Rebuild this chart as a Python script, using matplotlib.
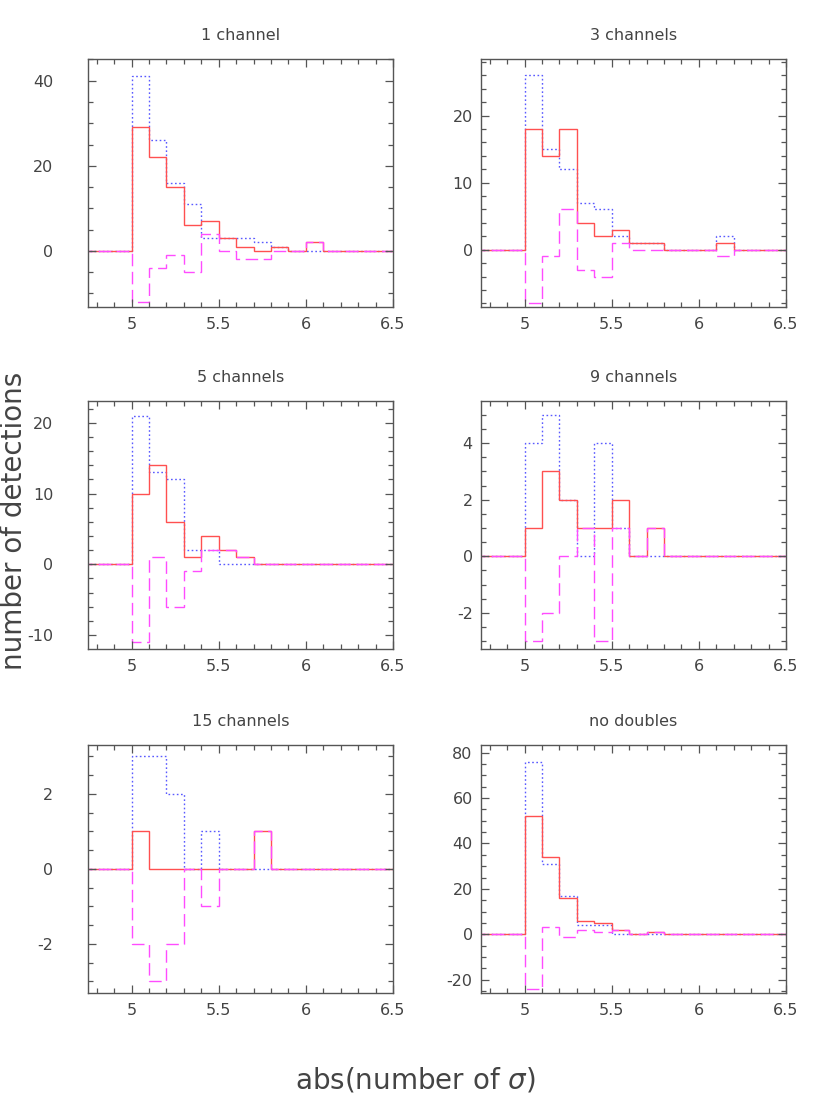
import numpy as np
import matplotlib
matplotlib.use("Agg")
import matplotlib.pyplot as plt
from matplotlib.ticker import MultipleLocator, FixedLocator

# bins of width 0.1 starting at 5.0
bin_lo = 5.0
bin_w = 0.1

titles = ["1 channel", "3 channels", "5 channels", "9 channels", "15 channels", "no doubles"]

solid_red = [
    [29, 22, 15, 6, 7, 3, 1, 0, 1, 0, 2, 0, 0, 0, 0],
    [18, 14, 18, 4, 2, 3, 1, 1, 0, 0, 0, 1, 0, 0, 0],
    [10, 14, 6, 1, 4, 2, 1, 0, 0, 0, 0, 0, 0, 0, 0],
    [1, 3, 2, 1, 1, 2, 0, 1, 0, 0, 0, 0, 0, 0, 0],
    [1, 0, 0, 0, 0, 0, 0, 1, 0, 0, 0, 0, 0, 0, 0],
    [52, 34, 16, 6, 5, 2, 0, 1, 0, 0, 0, 0, 0, 0, 0],
]
dotted_blue = [
    [41, 26, 16, 11, 3, 3, 3, 2, 1, 0, 0, 0, 0, 0, 0],
    [26, 15, 12, 7, 6, 2, 1, 1, 0, 0, 0, 2, 0, 0, 0],
    [21, 13, 12, 2, 2, 0, 0, 0, 0, 0, 0, 0, 0, 0, 0],
    [4, 5, 2, 0, 4, 1, 0, 0, 0, 0, 0, 0, 0, 0, 0],
    [3, 3, 2, 0, 1, 0, 0, 0, 0, 0, 0, 0, 0, 0, 0],
    [76, 31, 17, 4, 4, 0, 0, 0, 0, 0, 0, 0, 0, 0, 0],
]
dashed_mag = [
    [-12, -4, -1, -5, 4, 0, -2, -2, 0, 0, 2, 0, 0, 0, 0],
    [-8, -1, 6, -3, -4, 1, 0, 0, 0, 0, 0, -1, 0, 0, 0],
    [-11, 1, -6, -1, 2, 2, 1, 0, 0, 0, 0, 0, 0, 0, 0],
    [-3, -2, 0, 1, -3, 1, 0, 1, 0, 0, 0, 0, 0, 0, 0],
    [-2, -3, -2, 0, -1, 0, 0, 1, 0, 0, 0, 0, 0, 0, 0],
    [-24, 3, -1, 2, 1, 2, 0, 1, 0, 0, 0, 0, 0, 0, 0],
]

ylims = [(-13.2, 45.1), (-8.55, 28.45), (-11.97, 23.1),
         (-3.28, 5.49), (-3.31, 3.30), (-25.9, 83.4)]
ymajor = [20, 10, 10, 2, 2, 20]
yminor = [5, 2, 2, 0.5, 0.5, 5]

txt = "#444444"
plt.rcParams["font.family"] = ["DejaVu Sans"]
plt.rcParams["axes.unicode_minus"] = False

fig = plt.figure(figsize=(8.3, 11.06), dpi=100)

W, H = 830.0, 1106.0
lefts = [88, 481]
tops = [59, 401, 745]
aw, ah = 305, 248

for i in range(6):
    r, c = divmod(i, 2)
    ax = fig.add_axes([lefts[c] / W, 1 - (tops[r] + ah) / H, aw / W, ah / H])

    n = len(solid_red[i])
    edges = np.concatenate([[4.5], bin_lo + bin_w * np.arange(n + 1), [7.0]])

    def pad(v):
        return np.concatenate([[0], v, [0]])

    ax.stairs(pad(dotted_blue[i]), edges, baseline=None, color="#5a5aff",
              lw=1.0, linestyle=(0, (1.2, 1.8)))
    ax.stairs(pad(solid_red[i]), edges, baseline=None, color="#ff5050", lw=1.0)
    ax.stairs(pad(dashed_mag[i]), edges, baseline=None, color="#ff4cff",
              lw=1.0, linestyle=(0, (9, 4)))

    ax.set_xlim(4.75, 6.5)
    ax.set_ylim(*ylims[i])
    ax.xaxis.set_major_locator(FixedLocator([5, 5.5, 6, 6.5]))
    ax.xaxis.set_minor_locator(MultipleLocator(0.1))
    ax.set_xticklabels(["5", "5.5", "6", "6.5"])
    ax.yaxis.set_major_locator(MultipleLocator(ymajor[i]))
    ax.yaxis.set_minor_locator(MultipleLocator(yminor[i]))

    ypad = 25 if c == 0 else 6
    ax.tick_params(which="both", direction="in", top=True, right=True,
                   colors="#555555", labelcolor=txt, labelsize=11.5, width=0.9)
    ax.tick_params(axis="y", pad=ypad)
    ax.tick_params(axis="x", pad=7)
    ax.tick_params(which="major", length=6)
    ax.tick_params(which="minor", length=3.5)
    for s in ax.spines.values():
        s.set_color("#555555")
        s.set_linewidth(1.0)

    ax.set_title(titles[i], fontsize=11.5, color=txt, pad=14)

fig.text(14 / W, 1 - 521 / H, "number of detections", rotation=90,
         ha="center", va="center", fontsize=20, color=txt)
fig.text(415 / W, 1 - 1080 / H, r"abs(number of $\sigma$)",
         ha="center", va="center", fontsize=20, color=txt)

fig.savefig("out.png", dpi=100)
